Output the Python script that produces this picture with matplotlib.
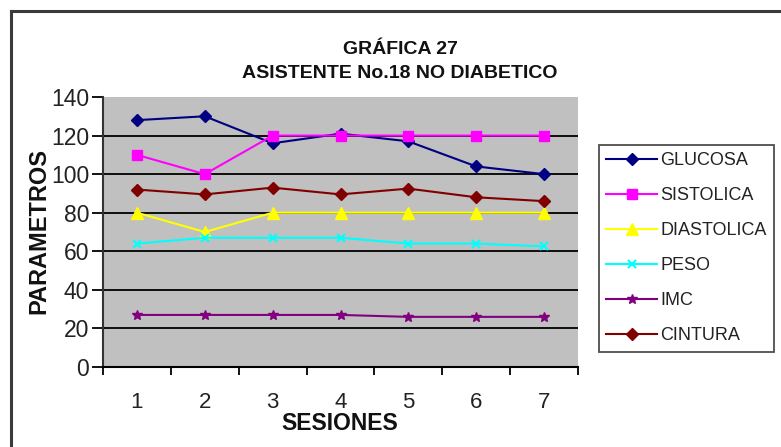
import matplotlib
matplotlib.use("Agg")
import matplotlib.pyplot as plt
from matplotlib.lines import Line2D

plt.rcParams['font.family'] = ['Liberation Sans', 'DejaVu Sans']

sessions = [1, 2, 3, 4, 5, 6, 7]
glucosa = [128, 130, 116, 121, 117, 104, 100]
sistolica = [110, 100, 120, 120, 120, 120, 120]
diastolica = [80, 70, 80, 80, 80, 80, 80]
peso = [64, 67, 67, 67, 64, 64, 62.5]
imc = [27, 27, 27, 27, 26, 26, 26]
cintura = [92, 89.5, 93, 89.5, 92.5, 88, 86]
series_names = ["GLUCOSA", "SISTOLICA", "DIASTOLICA", "PESO", "IMC", "CINTURA"]
yticks = [0, 20, 40, 60, 80, 100, 120, 140]

W, H = 781, 447
fig = plt.figure(figsize=(W / 100, H / 100), dpi=100)
fig.patch.set_facecolor('white')

# outer chart border (left and top visible)
fig.add_artist(Line2D([11 / W, 11 / W], [0, 1 - 11 / H], transform=fig.transFigure,
                      color='#3a3a3a', lw=2.2))
fig.add_artist(Line2D([11 / W, 1], [1 - 11 / H, 1 - 11 / H], transform=fig.transFigure,
                      color='#3a3a3a', lw=2.2))

ax = fig.add_axes([103 / W, 1 - 367 / H, (578 - 103) / W, (367 - 97) / H])
ax.set_facecolor('#c0c0c0')

styles = [
    dict(color='#000080', marker='D', ms=6, mfc='#000080', mec='#000080'),
    dict(color='#ff00ff', marker='s', ms=7, mfc='#ff00ff', mec='#ff00ff'),
    dict(color='#ffff00', marker='^', ms=8, mfc='#ffff00', mec='#ffff00'),
    dict(color='#00ffff', marker='x', ms=6, mfc='#00ffff', mec='#00ffff', mew=1.5),
    dict(color='#800080', marker='*', ms=7, mfc='#800080', mec='#800080'),
    dict(color='#800000', marker='D', ms=6, mfc='#800000', mec='#800000'),
]
data = [glucosa, sistolica, diastolica, peso, imc, cintura]

for yv in yticks[1:-1]:
    ax.axhline(yv, color='black', lw=1.3, zorder=1)

for name, vals, st in zip(series_names, data, styles):
    ax.plot(sessions, vals, lw=1.5, label=name, zorder=3, **st)

ax.set_xlim(0.5, 7.5)
ax.set_ylim(0, 140)
ax.set_yticks(yticks)
ax.set_xticks([x + 0.5 for x in range(0, 8)])
ax.set_xticklabels([])
ax.set_xticks(sessions, minor=True)
ax.set_xticklabels([str(s) for s in sessions], minor=True)
ax.tick_params(axis='x', which='minor', length=0, pad=18, labelsize=16, colors='#222222')
ax.tick_params(axis='x', which='major', length=6, width=1.3, direction='out', color='black')
ax.tick_params(axis='y', length=8, width=1.3, direction='out', labelsize=16.5, pad=2,
               labelcolor='#222222')
for s in ['top', 'right']:
    ax.spines[s].set_visible(False)
ax.spines['left'].set_color('#333333')
ax.spines['left'].set_linewidth(1.5)
ax.spines['bottom'].set_color('black')
ax.spines['bottom'].set_linewidth(1.5)

fig.text(400 / W, 1 - 49 / H, "GRÁFICA 27", ha='center', va='center',
         fontsize=14, fontweight='bold', color='#111111')
fig.text(400 / W, 1 - 73 / H, "ASISTENTE No.18 NO DIABETICO", ha='center', va='center',
         fontsize=14, fontweight='bold', color='#111111')
fig.text(340 / W, 1 - 424 / H, "SESIONES", ha='center', va='center',
         fontsize=16.5, fontweight='bold', color='#111111')
fig.text(39 / W, 1 - 231 / H, "PARAMETROS", ha='center', va='center', rotation=90,
         fontsize=17, fontweight='bold', color='#111111')

leg = fig.legend(loc='upper left', bbox_to_anchor=(599 / W, 1 - 145 / H),
                 bbox_transform=fig.transFigure, frameon=True, fancybox=False,
                 fontsize=13, handlelength=2.8, handletextpad=0.2,
                 labelspacing=1.0, borderpad=0.4, borderaxespad=0)
leg.get_frame().set_edgecolor('#222222')
leg.get_frame().set_linewidth(1.3)
for t in leg.get_texts():
    t.set_color('#222222')

fig.savefig("out.png", dpi=100)
